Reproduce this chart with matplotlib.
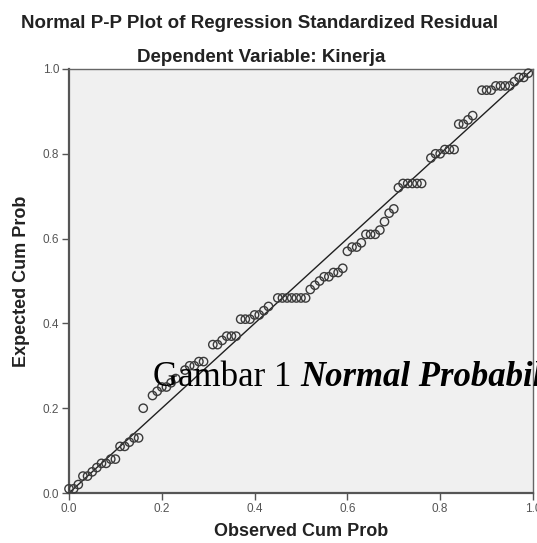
import matplotlib.pyplot as plt

# Observed vs expected cumulative probabilities
observed = [0.00, 0.01, 0.02, 0.03, 0.04, 0.05, 0.06, 0.07, 0.08, 0.09, 0.10,
            0.11, 0.12, 0.13, 0.14, 0.15,
            0.16, 0.18, 0.19, 0.20, 0.21, 0.22, 0.23,
            0.25, 0.26, 0.27, 0.28, 0.29,
            0.31, 0.32, 0.33, 0.34, 0.35, 0.36,
            0.37, 0.38, 0.39, 0.40, 0.41, 0.42, 0.43,
            0.45, 0.46, 0.47, 0.48, 0.49, 0.50, 0.51,
            0.52, 0.53, 0.54, 0.55, 0.56, 0.57, 0.58, 0.59,
            0.60, 0.61, 0.62, 0.63, 0.64, 0.65, 0.66, 0.67,
            0.68, 0.69, 0.70,
            0.71, 0.72, 0.73, 0.74, 0.75, 0.76,
            0.78, 0.79, 0.80, 0.81, 0.82, 0.83,
            0.84, 0.85, 0.86, 0.87,
            0.89, 0.90, 0.91, 0.92, 0.93, 0.94, 0.95, 0.96, 0.97, 0.98, 0.99]
expected = [0.01, 0.01, 0.02, 0.04, 0.04, 0.05, 0.06, 0.07, 0.07, 0.08, 0.08,
            0.11, 0.11, 0.12, 0.13, 0.13,
            0.20, 0.23, 0.24, 0.25, 0.25, 0.26, 0.27,
            0.29, 0.30, 0.30, 0.31, 0.31,
            0.35, 0.35, 0.36, 0.37, 0.37, 0.37,
            0.41, 0.41, 0.41, 0.42, 0.42, 0.43, 0.44,
            0.46, 0.46, 0.46, 0.46, 0.46, 0.46, 0.46,
            0.48, 0.49, 0.50, 0.51, 0.51, 0.52, 0.52, 0.53,
            0.57, 0.58, 0.58, 0.59, 0.61, 0.61, 0.61, 0.62,
            0.64, 0.66, 0.67,
            0.72, 0.73, 0.73, 0.73, 0.73, 0.73,
            0.79, 0.80, 0.80, 0.81, 0.81, 0.81,
            0.87, 0.87, 0.88, 0.89,
            0.95, 0.95, 0.95, 0.96, 0.96, 0.96, 0.96, 0.97, 0.98, 0.98, 0.99]
ticks = [0.0, 0.2, 0.4, 0.6, 0.8, 1.0]

plt.rcParams['font.family'] = ['Liberation Sans', 'DejaVu Sans']

fig = plt.figure(figsize=(5.37, 5.43), dpi=100)
ax = fig.add_axes([0.1285, 0.092, 0.864, 0.781])
ax.set_facecolor('#f0f0f0')

ax.plot([0, 1], [0, 1], color='#202020', lw=1.0, zorder=2)
ax.scatter(observed, expected, s=36, facecolors='none', edgecolors='#3a3a3a',
           linewidths=1.0, zorder=3, clip_on=False)

ax.set_xlim(0, 1)
ax.set_ylim(0, 1)
ax.set_xticks(ticks)
ax.set_yticks(ticks)
ax.set_xticklabels(['%.1f' % t for t in ticks])
ax.set_yticklabels(['%.1f' % t for t in ticks])
ax.tick_params(direction='out', length=5, width=1, color='#555555',
               labelsize=8.5, labelcolor='#555555', pad=2)
for side in ['left', 'bottom']:
    ax.spines[side].set_color('#555555')
    ax.spines[side].set_linewidth(1.6)
for side in ['top', 'right']:
    ax.spines[side].set_color('#666666')
    ax.spines[side].set_linewidth(1.0)

ax.set_xlabel('Observed Cum Prob', fontsize=13, fontweight='bold', color='#222222', labelpad=6)
ax.set_ylabel('Expected Cum Prob', fontsize=13, fontweight='bold', color='#222222', labelpad=9)

fig.text(0.484, 0.957, 'Normal P-P Plot of Regression Standardized Residual',
         ha='center', va='center', fontsize=13.5, fontweight='bold', color='#222222')
fig.text(0.486, 0.895, 'Dependent Variable: Kinerja',
         ha='center', va='center', fontsize=13.5, fontweight='bold', color='#222222')

# overlaid caption from the source document, cut off at the right edge
fig.text(0.285, 0.29, 'Gambar 1', ha='left', va='baseline',
         fontsize=25, family='Liberation Serif', color='black')
fig.text(0.559, 0.29, 'Normal Probability Plot', ha='left', va='baseline',
         fontsize=25, family='Liberation Serif', fontweight='bold',
         fontstyle='italic', color='black')

fig.savefig('out.png', dpi=100)
